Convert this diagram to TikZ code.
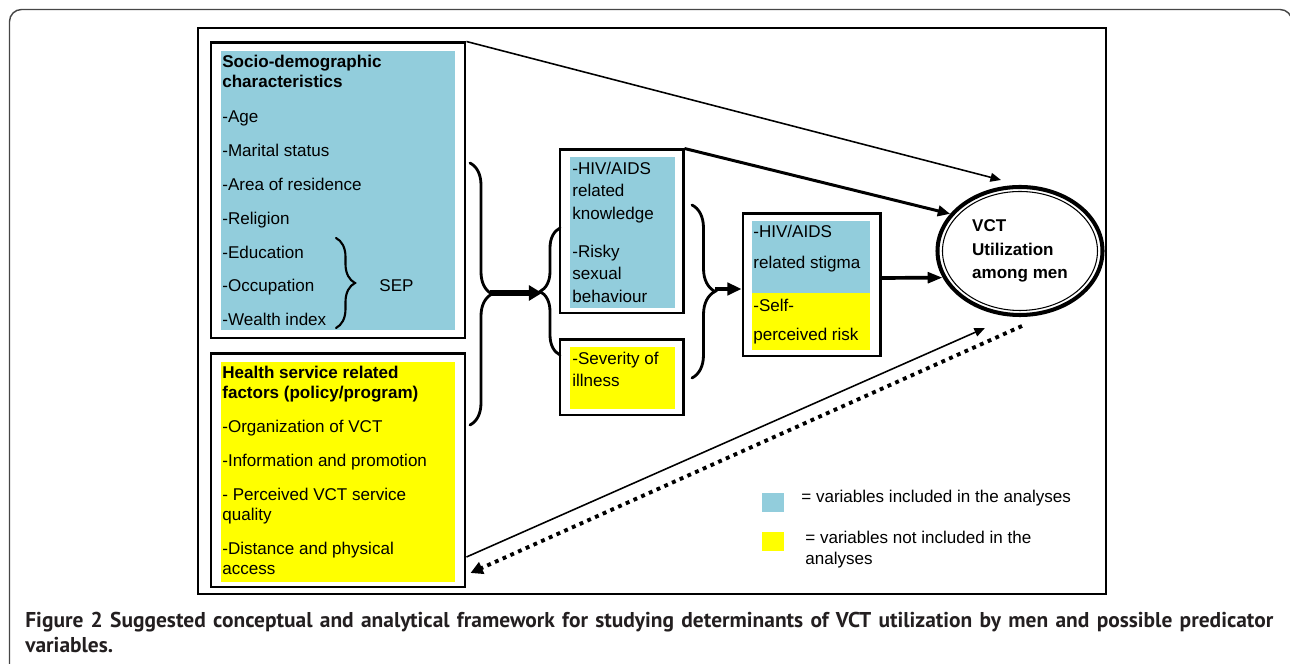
\documentclass[tikz,border=0pt]{standalone}
\usepackage{fontspec}
\setmainfont{Liberation Sans}
\newfontfamily\capfont{PT Sans}
\usetikzlibrary{arrows.meta,shapes.geometric,decorations.pathreplacing,calc}
\definecolor{aqua}{RGB}{146,205,220}
\definecolor{vyellow}{RGB}{255,255,0}
\definecolor{framegray}{RGB}{70,70,70}
\definecolor{capgray}{RGB}{35,31,32}

\begin{document}
\begin{tikzpicture}[scale=0.2]
    \tikzstyle{every node}+=[inner sep=0pt, font=\fontsize{9.7}{11.4}\selectfont]
    \tikzstyle{box}=[draw, line width=1.7pt]
    \tikzstyle{txt}=[anchor=north west, align=left]
    \tikzstyle{brc}=[decorate, line width=1.6pt, line cap=round]
    \useasboundingbox (0,0) rectangle (129,-66.4);
    \clip (0,0) rectangle (129,-66.4);
    \draw [framegray, line width=0.8pt, rounded corners=0.24cm] (0.95,-70) rectangle (129.2,-0.95);
    \draw [black, line width=1.1pt] (19.8,-2.8) rectangle (110.6,-59.4);
    \fill [aqua] (22.1,-5.1) rectangle (45.5,-33.0);
    \node [box, minimum width=5.08cm, minimum height=5.9cm] (socio) at (33.8,-19.05) {};
    \node [txt] (sociotxt) at (22.2,-5.45) {\textbf{Socio-demographic}\\\textbf{characteristics}\\[8.6pt]-Age\\[7.9pt]-Marital status\\[7.9pt]-Area of residence\\[7.9pt]-Religion\\[7.9pt]-Education\\[7.9pt]-Occupation\\[7.9pt]-Wealth index};
    \draw [brc, line width=1.2pt, decoration={brace, amplitude=0.38cm}] (33.6,-23.8) -- (33.6,-32.8);
    \node (sep) at (39.65,-28.6) {SEP};
    \fill [vyellow] (22.1,-36.2) rectangle (45.5,-58.2);
    \node [box, minimum width=5.08cm, minimum height=4.66cm] (health) at (33.8,-47.05) {};
    \node [txt] (healthtxt) at (22.2,-36.55) {\textbf{Health service related}\\\textbf{factors (policy/program)}\\[8pt]-Organization of VCT\\[8pt]-Information and promotion\\[8pt]- Perceived VCT service\\quality\\[8pt]-Distance and physical\\access};
    \draw [brc, decoration={brace, amplitude=0.44cm}] (47.0,-16.3) -- (47.0,-42.5);
    \coordinate (lefttip) at (49.0,-29.3);
    \coordinate (midtip) at (54.2,-29.3);
    \draw [line width=3.4pt, -{Triangle[length=7.5pt, width=8.5pt]}] (lefttip) -- (midtip);
    \draw [brc, decoration={brace, amplitude=0.4cm}] (56.0,-35.5) -- (56.0,-22.8);
    \fill [aqua] (57.0,-15.7) rectangle (67.5,-30.8);
    \node [box, minimum width=2.46cm, minimum height=3.26cm] (hiv) at (62.15,-23.15) {};
    \node [txt, font=\fontsize{9.7}{12.8}\selectfont] (hivtxt) at (57.2,-16.15) {-HIV/AIDS\\related\\knowledge\\[8.8pt]-Risky\\sexual\\behaviour};
    \fill [vyellow] (57.0,-34.7) rectangle (67.5,-40.9);
    \node [box, minimum width=2.46cm, minimum height=1.5cm] (severity) at (62.15,-37.75) {};
    \node [txt, font=\fontsize{9.7}{12.5}\selectfont] (severitytxt) at (57.2,-35.15) {-Severity of\\illness};
    \draw [brc, decoration={brace, amplitude=0.46cm}] (69.2,-20.5) -- (69.2,-37.8);
    \coordinate (righttip) at (71.5,-28.9);
    \fill [aqua] (75.2,-22.1) rectangle (87.0,-29.3);
    \fill [vyellow] (75.2,-29.3) rectangle (87.0,-35.0);
    \node [box, minimum width=2.74cm, minimum height=2.84cm] (stigma) at (81.15,-28.5) {};
    \node [txt] (stigmatxt) at (75.3,-22.5) {-HIV/AIDS\\[6.2pt]related stigma\\[13.1pt]-Self-\\[5.1pt]perceived risk};
    \draw [line width=2.3pt, -{Triangle[length=8pt, width=7pt]}] (righttip) -- (righttip -| stigma.west);
    \node [ellipse, draw, line width=2.3pt, minimum width=3.3cm, minimum height=2.56cm, align=left, font=\fontsize{9.7}{13.4}\selectfont\bfseries] (vct) at (102.0,-25.1) {VCT\\Utilization\\among men};
    \draw [line width=0.6pt] (vct.center) ellipse (7.75 and 5.95);
    \draw [line width=2.1pt, -{Triangle[length=8.5pt, width=6pt]}] ($(stigma.east)+(0,0.7)$) -- (vct.199);
    \draw [line width=1.7pt, -{Triangle[length=7pt, width=6pt]}] (hiv.north east) -- (vct.152);
    \coordinate (toparrow) at (100.1,-18.0);
    \draw [line width=0.9pt, -{Triangle[length=6pt, width=5pt]}] (socio.north east) -- (toparrow);
    \coordinate (feedback) at (98.5,-32.8);
    \draw [line width=0.9pt, -{Triangle[length=6pt, width=5pt]}] ($(health.east)+(0,-8.65)$) -- (feedback);
    \coordinate (dotstart) at (102.2,-32.6);
    \draw [line width=2.2pt, dash pattern=on 2.2pt off 2.6pt, -{Triangle[length=7pt, width=7pt]}] (dotstart) -- ($(health.east)+(0.4,-10.25)$);
    \node [fill=aqua, minimum width=0.44cm, minimum height=0.38cm] (keyin) at (77.3,-50.25) {};
    \node [anchor=west] (keyintxt) at (80.1,-49.8) {= variables included in the analyses};
    \node [fill=vyellow, minimum width=0.44cm, minimum height=0.38cm] (keyout) at (77.3,-54.15) {};
    \node [txt, font=\fontsize{9.7}{12}\selectfont] (keyouttxt) at (80.5,-53.05) {= variables not included in the\\analyses};
    \node [anchor=north west, text width=24.96cm, align=justify, text=capgray, font=\capfont\bfseries\fontsize{12.2}{14.2}\selectfont] (caption) at (2.5,-61.2) {Figure 2 Suggested conceptual and analytical framework for studying determinants of VCT utilization by men and possible predicator\linebreak variables.};
    \end{tikzpicture}
\end{document}
